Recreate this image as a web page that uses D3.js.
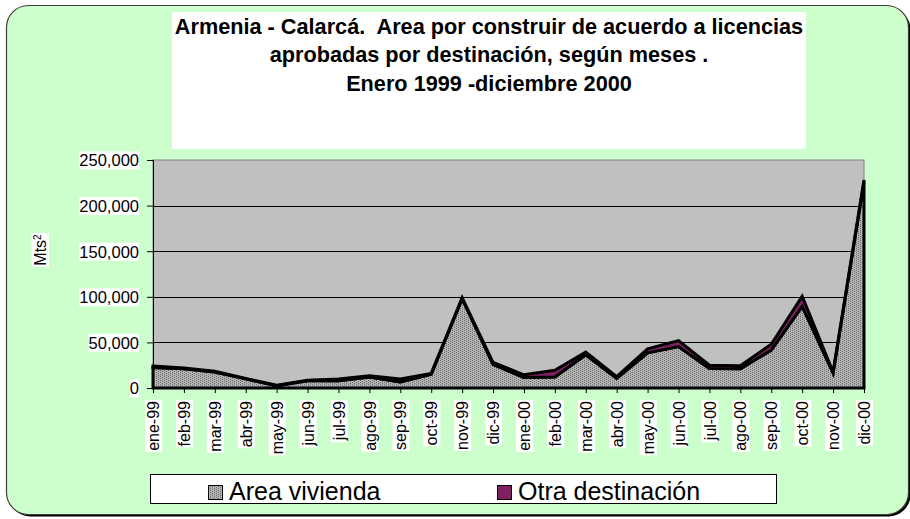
<!DOCTYPE html>
<html>
<head>
<meta charset="utf-8">
<script src="https://cdn.jsdelivr.net/npm/d3@7"></script>
<style>
  html, body { margin: 0; padding: 0; background: #ffffff; }
  svg { display: block; }
  text { font-family: "Liberation Sans", Arial, sans-serif; }
</style>
</head>
<body>
<svg id="chart" width="910" height="519"></svg>
<script>
const categories = ["ene-99","feb-99","mar-99","abr-99","may-99","jun-99","jul-99","ago-99","sep-99","oct-99","nov-99","dic-99",
                    "ene-00","feb-00","mar-00","abr-00","may-00","jun-00","jul-00","ago-00","sep-00","oct-00","nov-00","dic-00"];
const vivienda = [22500, 21000, 17500, 10000, 2500, 8000, 8000, 12000, 6500, 15000, 98000, 26000,
                  11500, 12000, 36500, 10500, 38500, 45500, 21500, 21000, 41500, 89500, 16500, 226000];
const otra = [1500, 1000, 1000, 500, 500, 500, 2000, 1500, 3500, 1000, 1000, 2000,
              3000, 7500, 3000, 2000, 4500, 6500, 3500, 3500, 6500, 11000, 1000, 2000];
const yTicks = [0, 50000, 100000, 150000, 200000, 250000];
const seriesNames = ["Area vivienda", "Otra destinación"];
const titleLines = ["Armenia - Calarcá.  Area por construir de acuerdo a licencias",
                    "aprobadas por destinación, según meses .",
                    "Enero 1999 -diciembre 2000"];

const svg = d3.select("#chart");
const FONT = '"Liberation Sans", Arial, sans-serif';

// defs: pattern
const defs = svg.append("defs");
const pat = defs.append("pattern").attr("id", "dots").attr("patternUnits", "userSpaceOnUse")
  .attr("width", 4).attr("height", 2);
pat.append("rect").attr("width", 4).attr("height", 2).attr("fill", "#b4b4b4");
pat.append("rect").attr("x", 0).attr("y", 0).attr("width", 1).attr("height", 1).attr("fill", "#6a6a6a");
pat.append("rect").attr("x", 2).attr("y", 1).attr("width", 1).attr("height", 1).attr("fill", "#6a6a6a");

// outer frame
svg.append("rect").attr("x", 8.5).attr("y", 7.5).attr("width", 902).attr("height", 509)
  .attr("rx", 22).attr("fill", "#000");
svg.append("rect").attr("x", 6.5).attr("y", 5.5).attr("width", 902).attr("height", 509)
  .attr("rx", 22).attr("fill", "#CCFFCC").attr("stroke", "#404040").attr("stroke-width", 1.2);

function bgText(sel, pad) {
  sel.each(function() {
    const b = this.getBBox();
    d3.select(this.parentNode).insert("rect", () => this)
      .attr("x", b.x - pad).attr("y", b.y).attr("width", b.width + 2 * pad).attr("height", b.height)
      .attr("fill", "#fff")
      .attr("transform", d3.select(this).attr("transform"));
  });
}

// title
svg.append("rect").attr("x", 172).attr("y", 12).attr("width", 634).attr("height", 137).attr("fill", "#fff");
svg.append("g").selectAll("text").data(titleLines).join("text")
  .attr("x", 489).attr("y", (d, i) => 34 + i * 28.3)
  .attr("text-anchor", "middle").attr("font-weight", "bold").attr("font-size", 21.7)
  .attr("xml:space", "preserve").style("white-space", "pre")
  .text(d => d);

// scales
const pLeft = 153, pRight = 864, pTop = 160, pBottom = 388;
const x = d3.scalePoint().domain(categories).range([pLeft, pRight]);
const y = d3.scaleLinear().domain([0, 250000]).range([pBottom, pTop]);

// plot area
svg.append("rect").attr("x", pLeft).attr("y", pTop).attr("width", pRight - pLeft).attr("height", pBottom - pTop)
  .attr("fill", "#C0C0C0").attr("stroke", "#808080").attr("stroke-width", 1);

// gridlines
svg.append("g").selectAll("line").data(yTicks.filter(v => v > 0 && v < 250000)).join("line")
  .attr("x1", pLeft).attr("x2", pRight).attr("y1", d => Math.round(y(d)) + 0.5).attr("y2", d => Math.round(y(d)) + 0.5)
  .attr("stroke", "#000").attr("stroke-width", 1);

// stacked areas
const rows = categories.map((c, i) => ({ cat: c, vivienda: vivienda[i], otra: otra[i] }));
const stack = d3.stack().keys(["vivienda", "otra"])(rows);
const area = d3.area().x((d, i) => x(categories[i])).y0(d => y(d[0])).y1(d => y(d[1]));
const fills = ["url(#dots)", "#802060"];
svg.append("g").selectAll("path").data(stack).join("path")
  .attr("d", d => area(d))
  .attr("fill", (d, i) => fills[i])
  .attr("stroke", "#000").attr("stroke-width", 3).attr("stroke-linejoin", "miter");

// axes
const yAxis = d3.axisLeft(y).tickValues(yTicks).tickSize(6).tickFormat(d3.format(","));
const gy = svg.append("g").attr("transform", `translate(${pLeft},0)`).call(yAxis);
gy.select(".domain").attr("stroke", "#000");
gy.selectAll(".tick line").attr("stroke", "#000");
gy.selectAll("text").attr("font-size", 16.5).attr("font-family", FONT).attr("fill", "#000").attr("x", -14).attr("dy", "0.36em");
gy.selectAll(".tick text").call(bgText, 0);

const xAxis = d3.axisBottom(x).tickSize(5).tickSizeOuter(0);
const gx = svg.append("g").attr("transform", `translate(0,${pBottom})`).call(xAxis);
gx.select(".domain").attr("stroke", "#000");
gx.selectAll(".tick line").attr("stroke", "#000");
gx.selectAll(".tick text")
  .attr("font-size", 16).attr("font-family", FONT).attr("fill", "#000")
  .attr("text-anchor", "end").attr("transform", "rotate(-90)")
  .attr("x", -13).attr("y", 0).attr("dy", "0.35em");
gx.selectAll(".tick text").call(bgText, 1);

// y axis title
const yt = svg.append("text").attr("transform", "translate(46,250) rotate(-90)")
  .attr("text-anchor", "middle").attr("font-size", 16);
yt.append("tspan").text("Mts");
yt.append("tspan").attr("baseline-shift", "super").attr("font-size", 10).text("2");
yt.call(bgText, 1);

// legend
svg.append("rect").attr("x", 150.5).attr("y", 474.5).attr("width", 626).attr("height", 29)
  .attr("fill", "#fff").attr("stroke", "#000").attr("stroke-width", 1);
const legX = [208, 497];
const lg = svg.append("g").selectAll("g").data(seriesNames).join("g")
  .attr("transform", (d, i) => `translate(${legX[i]},485)`);
lg.append("rect").attr("x", 0.5).attr("y", 0.5).attr("width", 14).attr("height", 14)
  .attr("fill", (d, i) => fills[i]).attr("stroke", "#000").attr("stroke-width", 1);
lg.append("text").attr("x", 21).attr("y", 15).attr("font-size", 25).text(d => d);
</script>
</body>
</html>
